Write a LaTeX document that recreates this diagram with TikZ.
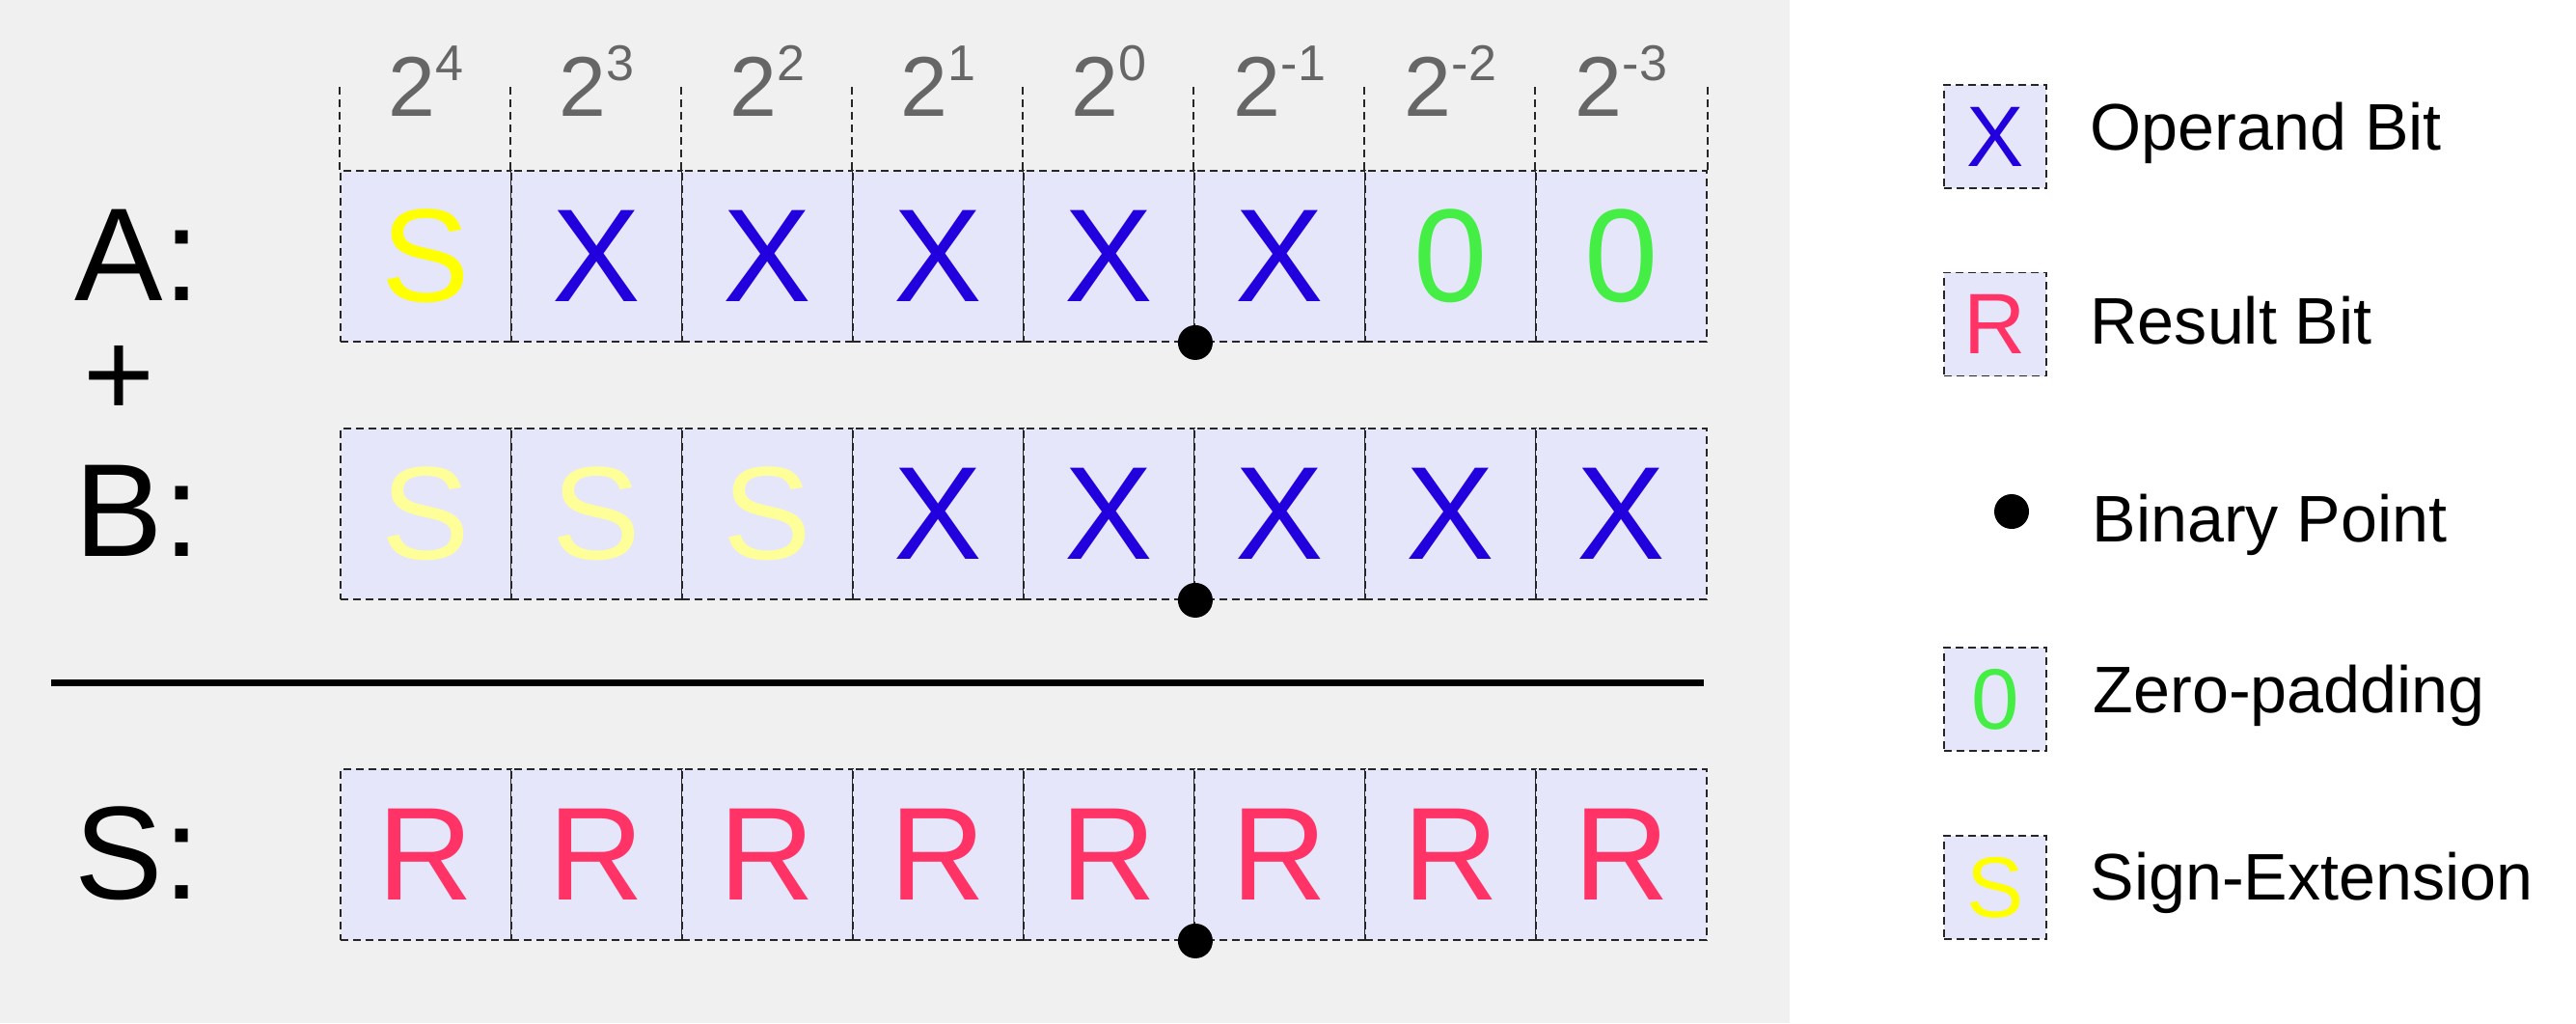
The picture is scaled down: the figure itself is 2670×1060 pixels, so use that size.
\documentclass[tikz,border=0pt]{standalone}
\usepackage{fontspec}
\setmainfont{Liberation Sans}
\definecolor{bgpanel}{HTML}{F0F0F0}
\definecolor{cellfill}{HTML}{E6E6FA}
\definecolor{opblue}{HTML}{2200DD}
\definecolor{resred}{HTML}{FF3366}
\definecolor{zerogreen}{HTML}{44EE44}
\definecolor{signyellow}{HTML}{FFFF00}
\definecolor{signpale}{HTML}{FFFF99}
\definecolor{labgray}{HTML}{666666}
\newcommand\powtwo[1]{2\raisebox{10.5pt}{\fontsize{14.8pt}{15pt}\selectfont #1}}
\begin{document}
\begin{tikzpicture}[x=0.01cm,y=-0.01cm,
  cellline/.style={draw=black!85, dash pattern=on 0.08cm off 0.05cm, line width=0.5pt},
  bit/.style={cellline, fill=cellfill, minimum width=1.77cm, minimum height=1.77cm, inner sep=0pt, font=\fontsize{39pt}{40pt}\selectfont},
  keybox/.style={cellline, fill=cellfill, minimum width=1.06cm, minimum height=1.07cm, inner sep=0pt, font=\fontsize{25.3pt}{26pt}\selectfont},
  keytext/.style={anchor=base west, inner sep=0pt, font=\fontsize{19.4pt}{20pt}\selectfont},
  rowlabel/.style={anchor=base west, inner sep=0pt, font=\fontsize{39pt}{40pt}\selectfont},
  collabel/.style={anchor=base, inner sep=0pt, text=labgray, font=\fontsize{25pt}{26pt}\selectfont},
  tick/.style={cellline},
  bpoint/.style={fill=black},
  sumline/.style={line width=0.07cm}
]
\useasboundingbox (0,0) rectangle (2670,1060);
\fill[white] (0,0) rectangle (2670,1060);
\fill[bgpanel] (0,0) rectangle (1855,1060);

% row A
\foreach \v/\c [count=\i from 0] in {S/signyellow,X/opblue,X/opblue,X/opblue,X/opblue,X/opblue,0/zerogreen,0/zerogreen}
  \node[bit, text=\c] (a\i) at (441.5+177*\i,265.5) {\v};
% row B
\foreach \v/\c [count=\i from 0] in {S/signpale,S/signpale,S/signpale,X/opblue,X/opblue,X/opblue,X/opblue,X/opblue}
  \node[bit, text=\c] (b\i) at (441.5+177*\i,532.5) {\v};
% row S
\foreach \i in {0,...,7}
  \node[bit, text=resred] (s\i) at (441.5+177*\i,885.5) {R};

% ticks above columns
\foreach \i in {0,...,7}
  \draw[tick] (a\i.north west) -- ++(0,-88);
\draw[tick] (a7.north east) -- ++(0,-88);

% column labels
\foreach \p [count=\i from 0] in {4,3,2,1,0,-1,-2,-3}
  \node[collabel] (p\i) at (441.5+177*\i,120) {\powtwo{\p}};

% row labels
\node[rowlabel] (la) at (77,311) {A:};
\node[inner sep=0pt, font=\fontsize{36pt}{37pt}\selectfont] (plus) at (123,395) {+};
\node[rowlabel] (lb) at (77,576) {B:};
\node[rowlabel] (ls) at (77,931) {S:};

% sum line
\coordinate (lineL) at (53,707);
\coordinate (lineR) at (1766,707);
\draw[sumline] (lineL) -- (lineR);

% binary points
\fill[bpoint] (a4.south east) circle (0.18cm);
\fill[bpoint] (b4.south east) circle (0.18cm);
\fill[bpoint] (s4.south east) circle (0.18cm);

% legend
\node[keybox, text=opblue] (kx) at (2068,141.5) {X};
\node[keytext] (tx) at (2166,155) {Operand Bit};
\node[keybox, text=resred] (kr) at (2068,336) {R};
\node[keytext] (tr) at (2166,356) {Result Bit};
\fill[bpoint] (2085,530) circle (0.18cm);
\node[keytext] (tb) at (2168,561) {Binary Point};
\node[keybox, text=zerogreen] (kz) at (2068,724.5) {0};
\node[keytext] (tz) at (2169,738) {Zero-padding};
\node[keybox, text=signyellow] (ks) at (2068,919.5) {S};
\node[keytext] (ts) at (2166,932) {Sign-Extension};
\end{tikzpicture}
\end{document}
